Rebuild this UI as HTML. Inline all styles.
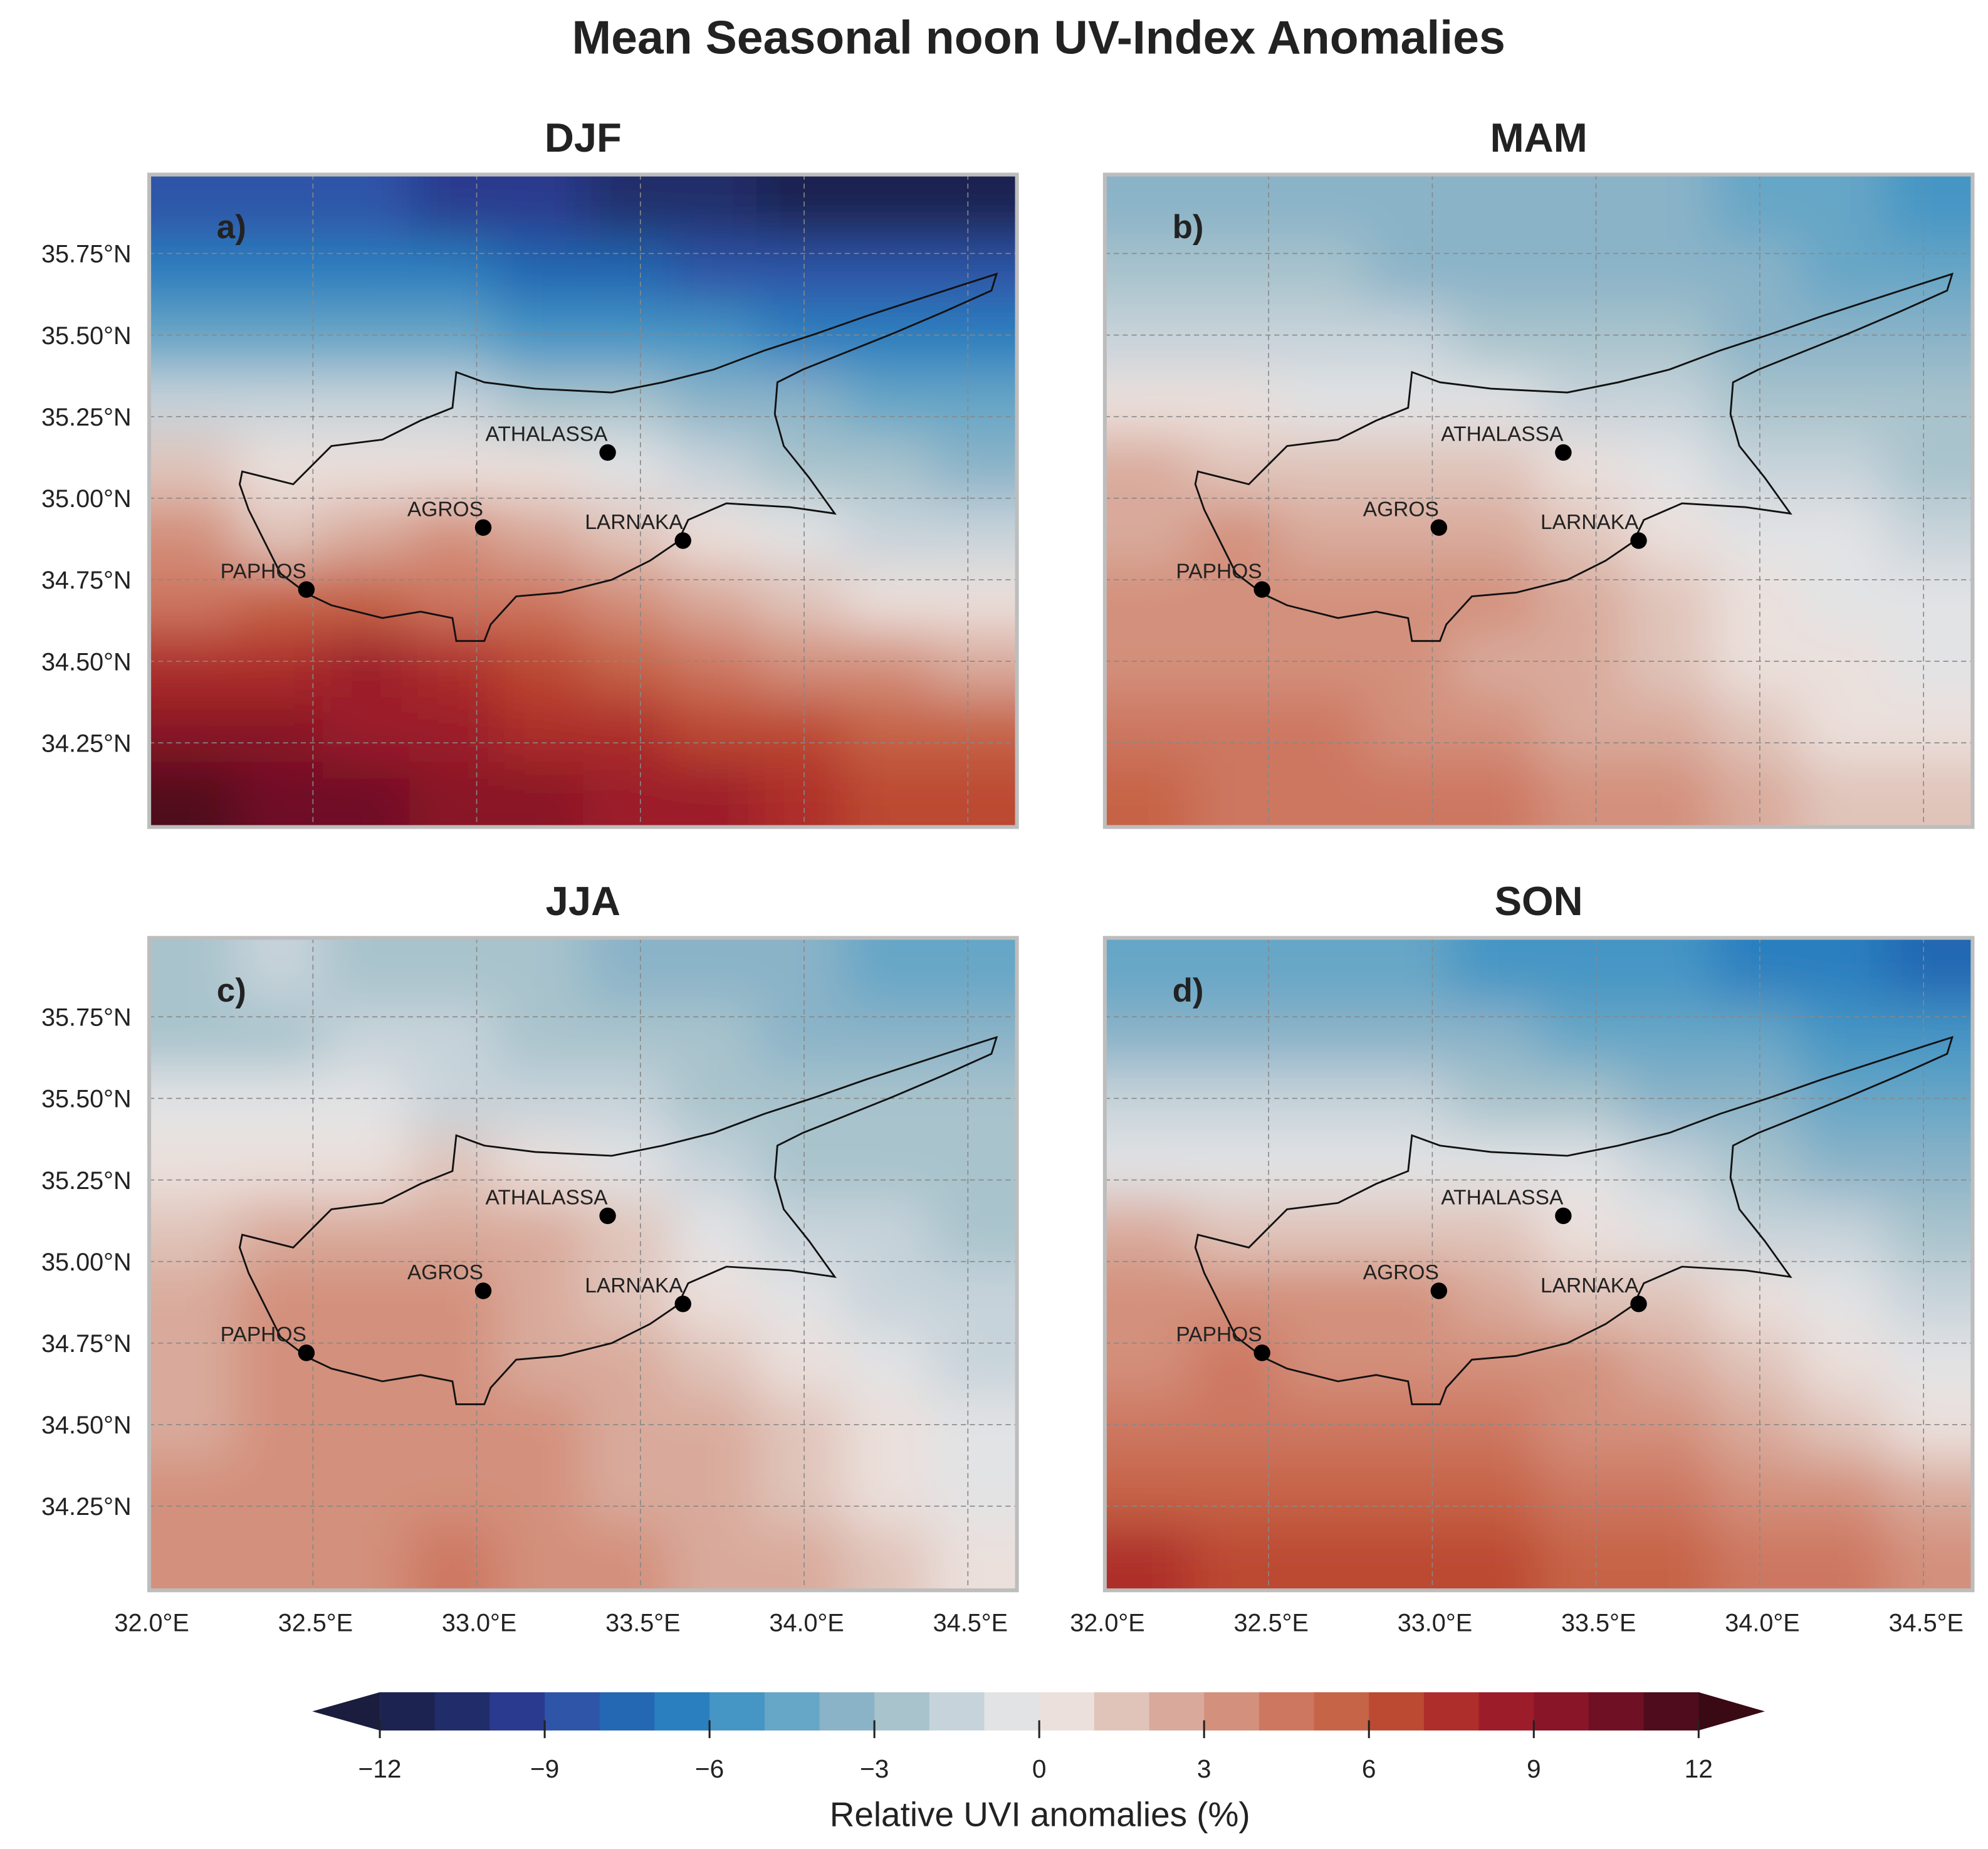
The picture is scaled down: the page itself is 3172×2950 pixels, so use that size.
<!DOCTYPE html>
<html><head><meta charset="utf-8"><style>html,body{margin:0;padding:0;background:#fff}svg{display:block}</style></head>
<body>
<svg id="fig" width="3172" height="2950" viewBox="0 0 1560 1451" xmlns="http://www.w3.org/2000/svg" font-family="Liberation Sans, Arial, sans-serif">
<defs>
<filter id="blur" x="-5%" y="-5%" width="110%" height="110%"><feGaussianBlur stdDeviation="20"/></filter>
</defs>
<text x="815" y="42" font-size="37" font-weight="bold" text-anchor="middle" fill="#222">Mean Seasonal noon UV-Index Anomalies</text>
<g id="panels"></g>
<g id="cbar"></g>
</svg>
<script>
const seasons = ["DJF","MAM","JJA","SON"];
const letters = ["a)","b)","c)","d)"];
const levelColors = ["#1c2350","#202d6a","#2a3a8e","#2f55a8","#2467b3","#2a7fbf","#4595c5","#66a6c6","#8ab3c8","#a8c3cc","#c7d3da","#e2e3e5","#ebe0dc","#e0c4ba","#d9aa9b","#d3907c","#cd7761","#c66447","#bc4a32","#ae2e2c","#9c1d29","#891528","#6f1025","#4f0c1c"];
const cbarTicks = [-12,-9,-6,-3,0,3,6,9,12];
const latTicks = [35.75,35.5,35.25,35.0,34.75,34.5,34.25];
const lonTicks = [32.0,32.5,33.0,33.5,34.0,34.5];
const fieldDJF = [
[-9,-9,-9,-10,-10,-11,-11,-12,-12,-12],
[-7,-7,-7,-7,-8,-8,-9,-9,-9,-9],
[-5,-5,-5,-5,-6,-6,-6,-7,-7,-7],
[-2,-2,-2,-2,-3,-3,-4,-4,-5,-5],
[1,0,0,0,0,-1,-2,-3,-3,-4],
[3,1,2,3,2,1,0,-1,-2,-2],
[4,5,5,4,4,3,2,1,0,0],
[7,7,8,7,6,5,4,3,3,2],
[9,9,8,8,7,7,6,6,5,5],
[11,10,10,9,9,8,8,7,6,6]];
const fieldMAM = [
[-4,-4,-4,-4,-4,-4,-4,-5,-5,-6],
[-3,-3,-3,-4,-4,-4,-4,-4,-5,-5],
[-2,-2,-2,-2,-3,-3,-3,-4,-4,-4],
[0,0,-1,-1,-1,-2,-2,-3,-3,-3],
[2,1,1,1,1,0,-1,-2,-2,-3],
[2,3,2,2,2,1,0,-1,-1,-2],
[3,3,3,3,3,2,1,0,-1,-1],
[3,3,3,3,2,2,1,0,0,-1],
[4,4,4,3,3,2,2,1,0,0],
[5,4,4,4,4,3,3,2,1,1]];
const fieldJJA = [
[-3,-2,-3,-3,-3,-4,-4,-4,-5,-5],
[-3,-3,-2,-2,-3,-3,-3,-4,-4,-4],
[-1,-1,-1,-2,-2,-2,-3,-3,-3,-3],
[0,0,0,1,0,-1,-2,-3,-3,-3],
[1,2,2,2,2,1,-1,-2,-2,-3],
[2,3,3,3,2,1,0,-1,-2,-2],
[2,3,3,3,2,2,1,0,-1,-2],
[2,3,3,3,3,2,2,1,0,-1],
[3,3,3,3,3,2,2,1,0,-1],
[3,3,3,4,3,3,2,2,1,0]];
const fieldSON = [
[-5,-5,-5,-5,-6,-6,-6,-7,-7,-8],
[-4,-4,-4,-4,-4,-5,-5,-5,-6,-6],
[-2,-2,-2,-2,-3,-3,-4,-4,-5,-5],
[-1,-1,-1,-1,-1,-1,-2,-3,-4,-4],
[2,1,1,1,1,0,-1,-2,-2,-3],
[3,3,3,3,2,1,1,0,-1,-2],
[3,4,3,3,3,3,2,1,0,-1],
[4,4,4,4,4,3,3,2,1,0],
[5,5,5,5,5,4,4,3,3,2],
[7,6,6,6,6,5,5,4,4,3]];
const fields = [fieldDJF,fieldMAM,fieldJJA,fieldSON];
// coastline outline in panel-relative pixels
const coastPx = [[73,233],[113,243],[143,213],[183,208],[213,193],[238,183],[241,155],[263,163],[303,168],[363,171],[403,163],[443,153],[483,138],[523,125],[563,111],[603,98],[643,85],[665,78],[661,91],[623,108],[583,125],[543,141],[513,153],[493,163],[491,188],[498,213],[518,238],[538,266],[503,261],[453,258],[423,271],[415,288],[393,303],[363,318],[323,328],[288,331],[268,353],[263,366],[241,366],[238,348],[213,343],[183,348],[143,338],[124,329],[103,313],[88,283],[78,263],[71,243]];
const cityNames = ["ATHALASSA","AGROS","LARNAKA","PAPHOS"];
const cityLon = [33.40,33.02,33.63,32.48];
const cityLat = [35.14,34.91,34.87,34.72];
const panelPos = [[117,137],[867,137],[117,736],[867,736]];
const PW=681, PH=512;
const NS="http://www.w3.org/2000/svg";
function mk(tag,attrs,parent){const e=document.createElementNS(NS,tag);for(const k in attrs)e.setAttribute(k,attrs[k]);parent.appendChild(e);return e;}
function colorFor(v){let i=Math.floor(v+12);if(i<0)i=0;if(i>23)i=23;return levelColors[i];}
const panelsG=document.getElementById('panels');
const defs=document.querySelector('defs');
for(let p=0;p<4;p++){
  const [x0,y0]=panelPos[p];
  const xs=lon=>x0+(lon-32.0)*257;
  const ys=lat=>y0+(35.992-lat)*256;
  const g=mk('g',{},panelsG);
  
  
  const cp=mk('clipPath',{id:'clip'+p},defs);
  mk('rect',{x:x0,y:y0,width:PW,height:PH},cp);
  const t=mk('text',{x:x0+PW/2,y:y0-18,'font-size':32,'font-weight':'bold','text-anchor':'middle',fill:'#222'},g);
  t.textContent=seasons[p];
  
  
  const fg=mk('g',{'clip-path':'url(#clip'+p+')'},g);
  const hg=mk('g',{filter:'url(#blur)'},fg);
  
  
  const f=fields[p],R=f.length,C=f[0].length,cw=PW/C,ch=PH/R;
  for(let r=0;r<R;r++)for(let c=0;c<C;c++){
    const xx=x0+c*cw-(c===0?60:0), yy=y0+r*ch-(r===0?60:0);
    const ww=cw+(c===0?60:0)+(c===C-1?60:0)+1, hh=ch+(r===0?60:0)+(r===R-1?60:0)+1;
    const cell=mk('rect',{x:xx,y:yy,width:ww,height:hh,fill:colorFor(f[r][c])},hg);
    
    
  }
  latTicks.forEach(l=>{const gl=mk('line',{x1:x0,x2:x0+PW,y1:ys(l),y2:ys(l),stroke:'#888','stroke-width':0.8,'stroke-dasharray':'4 3'},fg);
    });
  lonTicks.forEach(l=>{const gl=mk('line',{x1:xs(l),x2:xs(l),y1:y0,y2:y0+PH,stroke:'#888','stroke-width':0.8,'stroke-dasharray':'4 3'},fg);
    });
  const pts=coastPx.map(q=>(x0+q[0])+','+(y0+q[1])).join(' ');
  const coast=mk('polygon',{points:pts,fill:'none',stroke:'#111','stroke-width':1.4},fg);
  
  
  cityNames.forEach((n,i)=>{
    const cx=xs(cityLon[i]),cy=ys(cityLat[i]);
    const d=mk('circle',{cx:cx,cy:cy,r:6.5,fill:'#000'},fg);
    
    
    const lt=mk('text',{x:cx,y:cy-9,'font-size':16.5,'text-anchor':'end',fill:'#222'},fg);
    lt.textContent=n;
    
    
  });
  const lt=mk('text',{x:x0+53,y:y0+50,'font-size':26,'font-weight':'bold',fill:'#222'},g);
  lt.textContent=letters[p];
  
  
  const fr=mk('rect',{x:x0,y:y0,width:PW,height:PH,fill:'none',stroke:'#bdbdbd','stroke-width':3},g);
  
  
  if(p%2===0){latTicks.forEach(l=>{const tt=mk('text',{x:x0-14,y:ys(l)+7,'font-size':19.5,'text-anchor':'end',fill:'#222'},g);
    tt.textContent=l.toFixed(2)+'°N';});}
  if(p>=2){lonTicks.forEach(l=>{const tt=mk('text',{x:xs(l)+2,y:y0+PH+32,'font-size':19.5,'text-anchor':'middle',fill:'#222'},g);
    tt.textContent=l.toFixed(1)+'°E';});}
}
const cb=document.getElementById('cbar');


const cbx0=298,cbx1=1333,cby=1328,cbh=30;
const cxs=v=>cbx0+(v+12)*(cbx1-cbx0)/24;
levelColors.forEach((c,i)=>{const r=mk('rect',{x:cxs(i-12),y:cby,width:(cbx1-cbx0)/24+0.6,height:cbh,fill:c},cb);
  });
const lt1=mk('polygon',{points:`${cbx0},${cby} ${cbx0},${cby+cbh} 245,${cby+cbh/2}`,fill:'#1a1d3d'},cb);

const rt1=mk('polygon',{points:`${cbx1},${cby} ${cbx1},${cby+cbh} 1385,${cby+cbh/2}`,fill:'#3a0a14'},cb);

cbarTicks.forEach(v=>{
  const tk=mk('line',{x1:cxs(v),x2:cxs(v),y1:cby+cbh-8,y2:cby+cbh+6,stroke:'#222','stroke-width':1.5},cb);
  
  const tt=mk('text',{x:cxs(v),y:1395,'font-size':20,'text-anchor':'middle',fill:'#222'},cb);
  tt.textContent=(v<0?'\u2212'+(-v):''+v);
  
});
const cl=mk('text',{x:816,y:1433,'font-size':27,'text-anchor':'middle',fill:'#222'},cb);
cl.textContent='Relative UVI anomalies (%)';


</script>
</body></html>
